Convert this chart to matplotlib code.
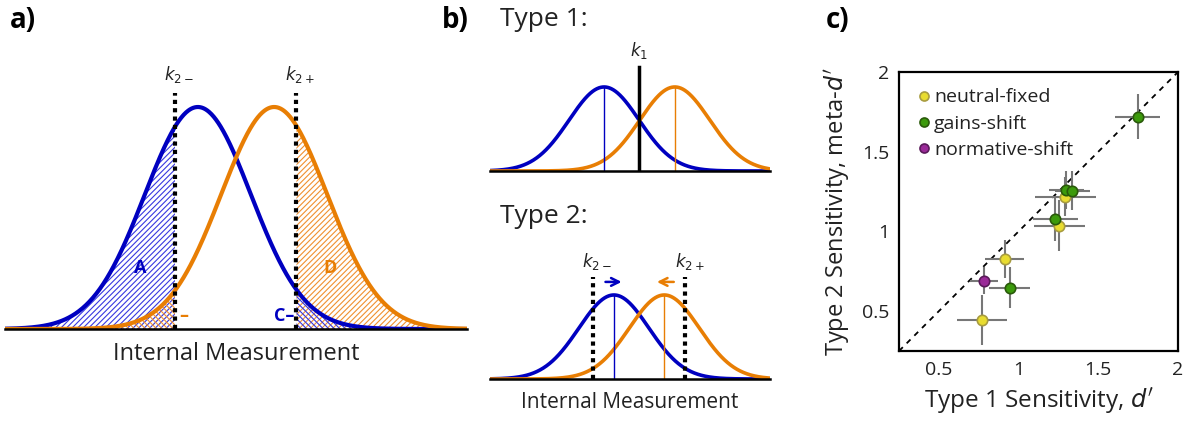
import numpy as np
import matplotlib
matplotlib.use("Agg")
import matplotlib.pyplot as plt
from matplotlib.lines import Line2D

plt.rcParams['font.family'] = ['Open Sans', 'DejaVu Sans']
plt.rcParams['mathtext.fontset'] = 'dejavusans'
plt.rcParams['hatch.linewidth'] = 0.8

BLUE = '#0000c0'
ORANGE = '#e87e04'

# ---- panel a parameters ----
a_means = [-0.72, 0.72]
a_k2 = [-1.15, 1.13]
a_xlim = (-4.36, 4.36)

# ---- panel b parameters ----
b1_means = [-1.01, 1.01]
b1_k1 = 0.0
b2_means = [-0.73, 0.71]
b2_k2 = [-1.34, 1.31]
b_xlim = (-4.27, 3.73)

# ---- panel c data ----
groups = ['neutral-fixed', 'gains-shift', 'normative-shift']
group_colors = ['#e8dc30', '#3c9a0c', '#9a2a98']
group_edges = ['#a89c40', '#2a5a0a', '#5a1a5a']
d1_neutral = [1.294, 1.256, 0.912, 0.770]
m_neutral = [1.219, 1.035, 0.829, 0.444]
xe_neutral = [0.19, 0.16, 0.12, 0.155]
ye_neutral = [0.125, 0.16, 0.12, 0.155]
d1_gains = [1.746, 1.298, 1.336, 1.231, 0.944]
m_gains = [1.719, 1.262, 1.256, 1.077, 0.648]
xe_gains = [0.14, 0.11, 0.11, 0.14, 0.13]
ye_gains = [0.14, 0.12, 0.12, 0.14, 0.13]
d1_norm = [0.783]
m_norm = [0.690]
xe_norm = [0.09]
ye_norm = [0.085]
c_ticks = [0.5, 1, 1.5, 2]
c_tick_labels = ['0.5', '1', '1.5', '2']

W, H = 1195, 421
fig = plt.figure(figsize=(W / 100, H / 100), dpi=100)


def px_axes(x0, y0, x1, y1):
    return fig.add_axes([x0 / W, 1 - y1 / H, (x1 - x0) / W, (y1 - y0) / H])


def pdf(x, m):
    return np.exp(-0.5 * (x - m) ** 2) / np.sqrt(2 * np.pi)


def clean(ax):
    for s in ['top', 'left', 'right']:
        ax.spines[s].set_visible(False)
    ax.spines['bottom'].set_linewidth(1.8)
    ax.spines['bottom'].set_color('black')
    ax.set_xticks([])
    ax.set_yticks([])
    ax.patch.set_alpha(0)


# ================= panel a =================
axa = px_axes(5, 60, 467, 329)
x = np.linspace(a_xlim[0], a_xlim[1], 800)
pb = pdf(x, a_means[0])
po = pdf(x, a_means[1])
kl, kr = a_k2
HB = '#3838e0'
HO = '#f09030'
axa.fill_between(x, 0, pb, where=x <= kl, facecolor='none', edgecolor=HB,
                 hatch='//////', linewidth=0)
axa.fill_between(x, 0, po, where=x <= kl, facecolor='none', edgecolor=HO,
                 hatch='\\\\\\\\\\\\', linewidth=0)
axa.fill_between(x, 0, po, where=x >= kr, facecolor='none', edgecolor=HO,
                 hatch='//////', linewidth=0)
axa.fill_between(x, 0, pb, where=x >= kr, facecolor='none', edgecolor=HB,
                 hatch='\\\\\\\\\\\\', linewidth=0)
axa.plot(x, pb, color=BLUE, lw=3)
axa.plot(x, po, color=ORANGE, lw=3)
for k, lab in zip(a_k2, ['$k_{2-}$', '$k_{2+}$']):
    axa.plot([k, k], [0, 0.424], color='black', lw=3, ls=(0, (1, 1)))
    axa.text(k + 0.08, 0.438, lab, ha='center', va='bottom', fontsize=12, color='#222222')
axa.text(-1.81, 0.11, 'A', color=BLUE, fontsize=13, fontweight='bold', ha='center', va='center')
axa.text(1.77, 0.11, 'D', color=ORANGE, fontsize=13, fontweight='bold', ha='center', va='center')
axa.text(-1.08, 0.024, '–', color=ORANGE, fontsize=13, fontweight='bold', ha='left', va='center')
axa.text(1.1, 0.024, 'C–', color=BLUE, fontsize=13, fontweight='bold', ha='right', va='center')
axa.set_xlim(*a_xlim)
axa.set_ylim(0, 0.4834)
clean(axa)
axa.set_xlabel('Internal Measurement', fontsize=17, labelpad=9, color='#222222')

# ================= panel b top =================
axb1 = px_axes(490, 40, 770, 171)
xb = np.linspace(b_xlim[0], b_xlim[1], 800)
axb1.plot(xb, pdf(xb, b1_means[0]), color=BLUE, lw=2.6)
axb1.plot(xb, pdf(xb, b1_means[1]), color=ORANGE, lw=2.6)
axb1.plot([b1_means[0]] * 2, [0, pdf(0, 0)], color=BLUE, lw=1)
axb1.plot([b1_means[1]] * 2, [0, pdf(0, 0)], color=ORANGE, lw=1)
axb1.plot([b1_k1] * 2, [0, 0.494], color='black', lw=2.5)
axb1.text(b1_k1, 0.52, '$k_1$', ha='center', va='bottom', fontsize=12, color='#222222')
axb1.set_xlim(*b_xlim)
axb1.set_ylim(0, 0.622)
clean(axb1)

# ================= panel b bottom =================
axb2 = px_axes(490, 240, 770, 379)
axb2.plot(xb, pdf(xb, b2_means[0]), color=BLUE, lw=2.6)
axb2.plot(xb, pdf(xb, b2_means[1]), color=ORANGE, lw=2.6)
axb2.plot([b2_means[0]] * 2, [0, pdf(0, 0)], color=BLUE, lw=1)
axb2.plot([b2_means[1]] * 2, [0, pdf(0, 0)], color=ORANGE, lw=1)
for k, lab in zip(b2_k2, ['$k_{2-}$', '$k_{2+}$']):
    axb2.plot([k, k], [0, 0.484], color='black', lw=3, ls=(0, (1, 1)))
    axb2.text(k + 0.12, 0.51, lab, ha='center', va='bottom', fontsize=12, color='#222222')
axb2.annotate('', xy=(-0.43, 0.461), xytext=(-1.05, 0.461),
              arrowprops=dict(arrowstyle='->', color=BLUE, lw=1.8, mutation_scale=14))
axb2.annotate('', xy=(0.42, 0.461), xytext=(1.06, 0.461),
              arrowprops=dict(arrowstyle='->', color=ORANGE, lw=1.8, mutation_scale=14))
axb2.set_xlim(*b_xlim)
axb2.set_ylim(0, 0.660)
clean(axb2)
axb2.set_xlabel('Internal Measurement', fontsize=15, labelpad=9, color='#222222')

# ================= panel c =================
axc = px_axes(899, 72, 1178, 351)
axc.plot([0.25, 2], [0.25, 2], color='black', ls=(0, (3, 3)), lw=1.3, zorder=1)
for d1, m, xe, ye, fc, ec, lab in [
        (d1_neutral, m_neutral, xe_neutral, ye_neutral, group_colors[0], group_edges[0], groups[0]),
        (d1_gains, m_gains, xe_gains, ye_gains, group_colors[1], group_edges[1], groups[1]),
        (d1_norm, m_norm, xe_norm, ye_norm, group_colors[2], group_edges[2], groups[2])]:
    axc.errorbar(d1, m, xerr=xe, yerr=ye, fmt='none', ecolor='#777777', elinewidth=1.5,
                 capsize=0, zorder=2)
    axc.plot(d1, m, 'o', ms=7.5, mfc=fc, mec=ec, mew=1.2, ls='none', zorder=3)
axc.set_xlim(0.25, 2)
axc.set_ylim(0.25, 2)
axc.set_xticks(c_ticks)
axc.set_xticklabels(c_tick_labels)
axc.set_yticks(c_ticks)
axc.set_yticklabels(c_tick_labels)
axc.tick_params(length=0, labelsize=14, pad=7, labelcolor='#222222')
for s in axc.spines.values():
    s.set_linewidth(1.6)
axc.set_xlabel("Type 1 Sensitivity, $d'$", fontsize=17.5, labelpad=5, color='#222222')
axc.set_ylabel("Type 2 Sensitivity, meta-$d'$", fontsize=17, labelpad=7, color='#222222')
handles = [Line2D([], [], marker='o', ls='none', ms=6.5, mfc=fc, mec=ec, mew=1.2)
           for fc, ec in zip(group_colors, group_edges)]
axc.legend(handles, groups, loc='upper left', bbox_to_anchor=(0.0, 0.99), frameon=False,
           fontsize=14, handletextpad=-0.1, handlelength=1.2, labelspacing=0.42,
           borderaxespad=0.3, labelcolor='#222222')

# ================= panel letters & titles =================
fig.text(10 / W, 1 - 20 / H, 'a)', fontsize=20, fontweight='bold', va='center', ha='left')
fig.text(442 / W, 1 - 20 / H, 'b)', fontsize=20, fontweight='bold', va='center', ha='left')
fig.text(826 / W, 1 - 20 / H, 'c)', fontsize=20, fontweight='bold', va='center', ha='left')
fig.text(500 / W, 1 - 20 / H, 'Type 1:', fontsize=19, va='center', ha='left', color='#222222')
fig.text(500 / W, 1 - 216 / H, 'Type 2:', fontsize=19, va='center', ha='left', color='#222222')

fig.savefig('out.png', dpi=100)
